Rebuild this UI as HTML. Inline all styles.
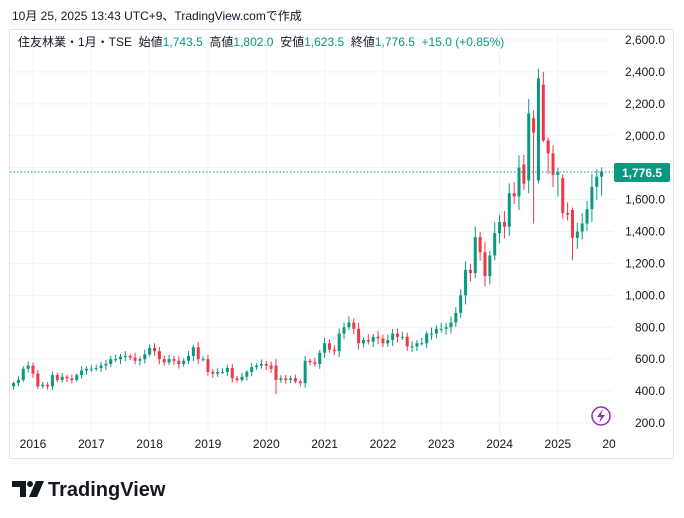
<!DOCTYPE html>
<html><head><meta charset="utf-8">
<style>
body{margin:0;background:#fff;width:684px;height:518px;overflow:hidden;font-family:"Liberation Sans","Noto Sans CJK JP",sans-serif;}
</style></head>
<body>
<svg id="s" width="684" height="518" xmlns="http://www.w3.org/2000/svg" style="position:absolute;left:0;top:0">
<text x="12" y="20" font-size="12" fill="#131722" font-family="Liberation Sans, Noto Sans CJK JP, sans-serif">10月 25, 2025 13:43 UTC+9、TradingView.comで作成</text>
<rect x="9.5" y="29.5" width="664" height="429" fill="none" stroke="#e0e3eb"/>
<g id="grid"></g>
<g id="candles"></g>
<line x1="10" y1="172" x2="613" y2="172" stroke="#089981" stroke-dasharray="1.5,2" stroke-width="1"/>
<text x="18" y="46" font-size="12" fill="#131722" font-family="Liberation Sans, Noto Sans CJK JP, sans-serif" xml:space="preserve">住友林業・1月・TSE  始値<tspan fill="#089981">1,743.5</tspan>  高値<tspan fill="#089981">1,802.0</tspan>  安値<tspan fill="#089981">1,623.5</tspan>  終値<tspan fill="#089981">1,776.5  +15.0 (+0.85%)</tspan></text>
<g id="yax" font-size="12" fill="#131722"></g>
<g id="xax" font-size="12" fill="#131722"></g>
<rect x="614" y="163" width="56" height="19" rx="2" fill="#089981"/>
<text x="642" y="177" font-size="12" font-weight="bold" fill="#fff" text-anchor="middle">1,776.5</text>
<circle cx="601" cy="416" r="9" fill="none" stroke="#9c27b0" stroke-width="1.5"/>
<path d="M603,409 L597,417 L601,417 L599,423 L605,415 L601,415 Z" fill="#9c27b0"/>
<g transform="translate(12,479)">
<path d="M0,2 H14 V18 H8 V8 H0 Z" fill="#131722"/>
<circle cx="18" cy="5" r="3" fill="#131722"/>
<path d="M17,18 L24,2 H32 L25,18 Z" fill="#131722"/>
</g>
<text x="48" y="496" font-size="20" font-weight="bold" fill="#131722">TradingView</text>
</svg>
<script>
var NS="http://www.w3.org/2000/svg";
function el(p,t,a,txt){var e=document.createElementNS(NS,t);for(var k in a)e.setAttribute(k,a[k]);if(txt)e.textContent=txt;document.getElementById(p).appendChild(e);}
function Y(v){return 423-(v-200)*0.15958;}
function X(i){return 33+(i-4)*4.86;}
for(var v=200;v<=2600;v+=200){var y=Y(v);el("grid","line",{x1:10,x2:613,y1:y,y2:y,stroke:"#f0f3fa"});
 el("yax","text",{x:665,y:y+4,"text-anchor":"end"},v.toLocaleString("en-US")+".0");}
var yrs=[2016,2017,2018,2019,2020,2021,2022,2023,2024,2025];
for(var k=0;k<yrs.length;k++){var x=X(4+12*k);el("grid","line",{x1:x,x2:x,y1:30,y2:433,stroke:"#f0f3fa"});
 el("xax","text",{x:x,y:448,"text-anchor":"middle"},String(yrs[k]));}
el("xax","text",{x:609,y:448,"text-anchor":"middle"},"20");
var C=[450,470,540,560,
510,430,440,430,500,470,490,480,470,500,530,540,
540,545,560,570,600,600,615,620,610,590,600,630,
670,650,600,580,600,590,570,590,620,675,600,600,
520,510,520,520,545,480,470,490,520,550,560,570,
560,540,470,480,470,480,460,450,590,580,570,640,
700,660,650,760,800,830,790,700,720,710,740,730,
700,720,760,740,740,680,680,700,700,760,760,790,
790,800,830,890,1000,1160,1140,1365,1270,1120,1250,1390,
1460,1430,1640,1620,1800,1700,2140,2020,2360,1970,1890,1755,
1770,1515,1505,1360,1400,1450,1540,1680,1743.5,1776.5];
var ov={};
ov[C.length-1]=[1743.5,1802,1623.5,1776.5];
ov[105]=[1820,1880,1660,1700];
ov[106]=[1720,2230,1640,2140];
ov[107]=[2110,2160,1450,2020];
ov[108]=[1720,2420,1700,2360];
ov[109]=[2320,2400,1960,1970];
ov[110]=[1970,1990,1760,1890];
ov[112]=[1755,1800,1620,1770];
ov[113]=[1735,1760,1480,1515];
ov[115]=[1535,1550,1220,1360];
ov[54]=[560,600,380,470];
var o=430;
for(var i=0;i<C.length;i++){
 var c=C[i],h,l,op=o;
 var w=Math.max(op,c)*(0.02+0.03*Math.abs(Math.sin(i*1.7)));
 var w2=Math.max(op,c)*(0.02+0.03*Math.abs(Math.cos(i*2.3)));
 h=Math.max(op,c)+w;l=Math.min(op,c)-w2;
 if(ov[i]){op=ov[i][0];h=ov[i][1];l=ov[i][2];c=ov[i][3];}
 var col=c>=op?"#089981":"#f23645",x=X(i);
 el("candles","line",{x1:x,x2:x,y1:Y(h),y2:Y(l),stroke:col,"stroke-width":1});
 var t=Y(Math.max(op,c)),b=Y(Math.min(op,c));
 el("candles","rect",{x:x-1.5,y:t,width:3,height:Math.max(1,b-t),fill:col});
 o=c;
}
</script>
</body></html>
